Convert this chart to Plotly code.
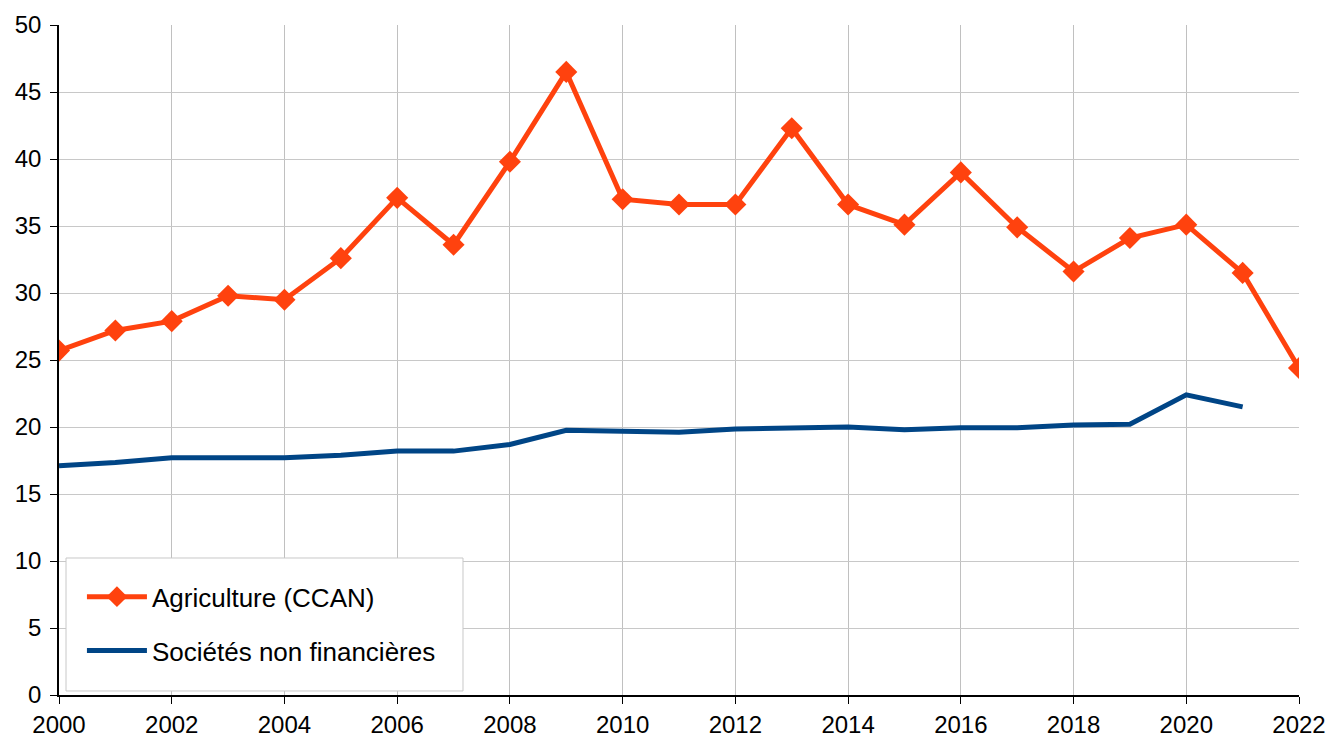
import plotly.graph_objects as go

years = list(range(2000, 2023))
agriculture = [25.7, 27.2, 27.9, 29.8, 29.5, 32.6, 37.1, 33.6, 39.8, 46.5, 37.0, 36.6, 36.6,
               42.3, 36.6, 35.1, 39.0, 34.9, 31.6, 34.1, 35.1, 31.5, 24.4]
snf_years = list(range(2000, 2022))
societes = [17.1, 17.35, 17.7, 17.7, 17.7, 17.9, 18.2, 18.2, 18.7, 19.75, 19.65, 19.6, 19.85,
            19.95, 20.0, 19.8, 19.95, 19.95, 20.15, 20.2, 22.4, 21.5]

x_ticks = list(range(2000, 2023, 2))
y_ticks = list(range(0, 51, 5))

font_family = "Liberation Sans, Arial, sans-serif"

fig = go.Figure()
fig.add_trace(go.Scatter(
    x=years, y=agriculture, name="Agriculture (CCAN)", mode="lines+markers",
    legendgroup="a",
    line=dict(color="#ff420e", width=5),
    marker=dict(symbol="diamond", size=17, color="#ff420e"),
))
fig.add_trace(go.Scatter(
    x=snf_years, y=societes, name="Sociétés non financières", mode="lines",
    legendgroup="b",
    line=dict(color="#004586", width=5),
))

# legend frame (decoration)
fig.add_shape(type="rect", xref="paper", yref="paper",
              x0=0.00565, x1=0.3258, y0=0.006, y1=0.2045,
              line=dict(color="#c8c8c8", width=1), fillcolor="white", layer="above")

fig.update_layout(
    width=1329, height=740,
    margin=dict(l=59, r=30, t=25, b=45),
    paper_bgcolor="white", plot_bgcolor="white",
    font=dict(family=font_family, size=24, color="black"),
    showlegend=True,
    legend=dict(
        x=0.0185, y=0.031, xanchor="left", yanchor="bottom",
        bgcolor="rgba(0,0,0,0)", borderwidth=0,
        font=dict(size=26, family=font_family, color="black"),
        tracegroupgap=17, itemwidth=60,
        traceorder="grouped",
    ),
)
fig.update_xaxes(
    range=[2000, 2022], tickvals=x_ticks, ticktext=[str(v) for v in x_ticks],
    showgrid=True, gridcolor="#c0c0c0", gridwidth=1,
    showline=True, linecolor="black", linewidth=1.5,
    ticks="outside", ticklen=7, tickcolor="black", zeroline=False,
    automargin=False, ticklabeloverflow="allow",
)
fig.update_yaxes(
    range=[0, 50], tickvals=y_ticks, ticktext=[str(v) for v in y_ticks],
    showgrid=True, gridcolor="#c8c8c8", gridwidth=1,
    showline=True, linecolor="black", linewidth=1.5,
    ticks="outside", ticklen=7, tickcolor="black", zeroline=False,
    automargin=False, ticklabelstandoff=4,
)

fig.write_html("out.html",
               config={"displayModeBar": False},
               post_script="document.body.style.margin='0';document.body.style.overflow='hidden';")
